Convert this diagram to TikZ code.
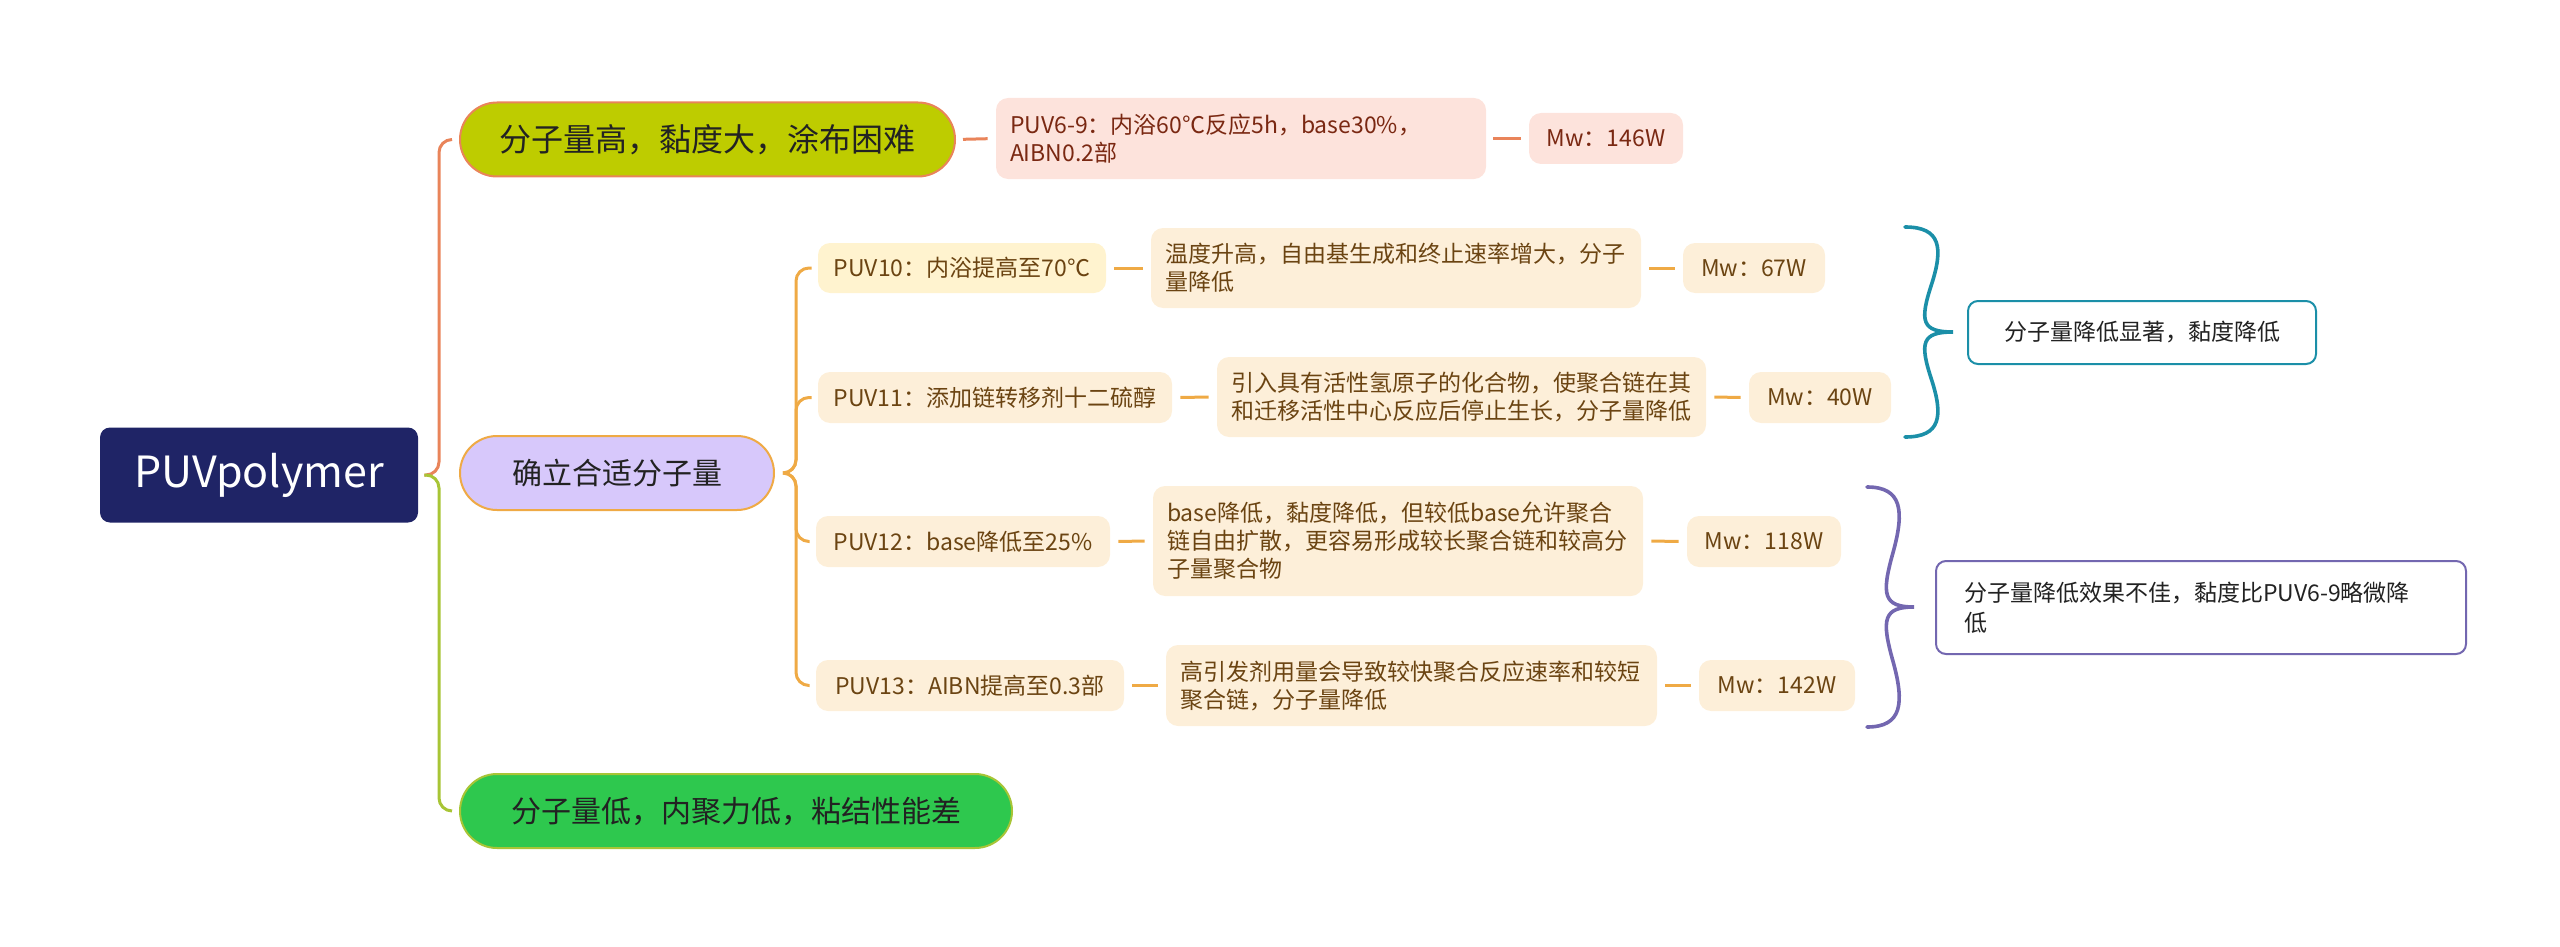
\documentclass[tikz,border=0pt]{standalone}
\usepackage{fontspec}
\setmainfont{Noto Sans CJK SC}
\usetikzlibrary{calc}
\definecolor{navy}{HTML}{1F2466}
\definecolor{cone}{HTML}{E9845A}
\definecolor{ctwo}{HTML}{EFAA45}
\definecolor{cthree}{HTML}{A8C536}
\definecolor{fone}{HTML}{BECC00}
\definecolor{ftwo}{HTML}{D7C8FB}
\definecolor{fthree}{HTML}{2EC84E}
\definecolor{pinkf}{HTML}{FDE3DC}
\definecolor{pinkt}{HTML}{7A2812}
\definecolor{yelf}{HTML}{FFF3CF}
\definecolor{peachf}{HTML}{FDEFD9}
\definecolor{brownt}{HTML}{6B4412}
\definecolor{tealc}{HTML}{1B8FA8}
\definecolor{purc}{HTML}{7367B0}
\definecolor{darkt}{HTML}{222222}
\begin{document}
\begin{tikzpicture}[x=0.5pt,y=-0.5pt,
  rootbox/.style={fill=navy, rounded corners=5pt, inner sep=0pt, text=white,
    minimum width=159pt, minimum height=47.5pt, font=\fontsize{21.5}{24}\selectfont},
  pill/.style={draw, line width=1pt, rounded corners=18.5pt, inner sep=0pt,
    minimum height=37pt, text=darkt, font=\fontsize{15}{18}\selectfont},
  sbox/.style={rounded corners=6pt, inner xsep=7pt, inner ysep=0pt,
    font=\fontsize{11.5}{14}\selectfont},
  pinkbox/.style={sbox, fill=pinkf, text=pinkt},
  yelbox/.style={sbox, fill=yelf, text=brownt},
  peachbox/.style={sbox, fill=peachf, text=brownt},
  notebox/.style={draw, line width=1pt, fill=white, rounded corners=5pt, inner xsep=14pt,
    inner ysep=0pt, text=darkt, font=\fontsize{11.5}{15}\selectfont},
  lnone/.style={draw=cone, line width=1.5pt, rounded corners=6.5pt},
  lntwo/.style={draw=ctwo, line width=1.5pt, rounded corners=6.5pt},
  lnthree/.style={draw=cthree, line width=1.5pt, rounded corners=6.5pt},
  dashone/.style={draw=cone, line width=1.5pt, shorten <=3.5pt, shorten >=4pt},
  dashtwo/.style={draw=ctwo, line width=1.5pt, shorten <=4pt, shorten >=4pt},
  bracepath/.style={line width=1.8pt, line cap=round}
]
\useasboundingbox (0,0) rectangle (2560,947);

% root and main branches
\node[rootbox] (root) at (259,475) {PUVpolymer};
\node[pill, fill=fone, draw=cone, minimum width=247.5pt, font=\fontsize{16}{19}\selectfont] (b1) at (707.5,139.5) {分子量高，黏度大，涂布困难};
\node[pill, fill=ftwo, draw=ctwo, minimum width=157pt] (b2) at (617,473) {确立合适分子量};
\node[pill, fill=fthree, draw=cthree, minimum width=276pt] (b3) at (736,811) {分子量低，内聚力低，粘结性能差};

% branch 1 row
\node[pinkbox, minimum width=245pt, minimum height=40.5pt, text width=231pt, align=left] (n69) at (1241,138.5) {PUV6-9：内浴60℃反应5h，base30\%，\\AIBN0.2部};
\node[pinkbox, minimum width=77pt, minimum height=25.5pt] (mw146) at (1606,138.5) {Mw：146W};

% branch 2 rows
\node[yelbox, minimum width=144pt, minimum height=25pt] (p10) at (962,268) {PUV10：内浴提高至70℃};
\node[peachbox, minimum width=245pt, minimum height=40pt, text width=231pt, align=left] (e10) at (1396,268) {温度升高，自由基生成和终止速率增大，分子\\量降低};
\node[peachbox, minimum width=71pt, minimum height=25pt] (mw67) at (1754,268) {Mw：67W};

\node[peachbox, minimum width=177pt, minimum height=25.5pt] (p11) at (995,397.5) {PUV11：添加链转移剂十二硫醇};
\node[peachbox, minimum width=244.5pt, minimum height=40pt, text width=230.5pt, align=left] (e11) at (1461.5,397) {引入具有活性氢原子的化合物，使聚合链在其\\和迁移活性中心反应后停止生长，分子量降低};
\node[peachbox, minimum width=71pt, minimum height=25.5pt] (mw40) at (1820,397.5) {Mw：40W};

\node[peachbox, minimum width=147pt, minimum height=25.5pt] (p12) at (963,541.5) {PUV12：base降低至25\%};
\node[peachbox, minimum width=245pt, minimum height=55pt, text width=231pt, align=left] (e12) at (1398,541) {base降低，黏度降低，但较低base允许聚合\\链自由扩散，更容易形成较长聚合链和较高分\\子量聚合物};
\node[peachbox, minimum width=77pt, minimum height=25.5pt] (mw118) at (1764,541.5) {Mw：118W};

\node[peachbox, minimum width=154pt, minimum height=25.5pt] (p13) at (970,685.5) {PUV13：AIBN提高至0.3部};
\node[peachbox, minimum width=245.5pt, minimum height=40.5pt, text width=231.5pt, align=left] (e13) at (1411.5,685.5) {高引发剂用量会导致较快聚合反应速率和较短\\聚合链，分子量降低};
\node[peachbox, minimum width=78pt, minimum height=25.5pt] (mw142) at (1777,685.5) {Mw：142W};

% summary boxes
\node[notebox, draw=tealc, minimum width=174pt, minimum height=31.5pt] (s1) at (2142,332.5) {分子量降低显著，黏度降低};
\node[notebox, draw=purc, minimum width=265pt, minimum height=46.5pt, text width=237pt, align=left] (s2) at (2201,607.5) {分子量降低效果不佳，黏度比PUV6-9略微降\\低};

% root connectors
\draw[lnone] ([xshift=3pt]root.east) -- (439,475) -- (439,139.5) -- ([xshift=-3.5pt]b1.west);
\draw[lnthree] ([xshift=3pt]root.east) -- (439,475) -- (439,811) -- ([xshift=-3.5pt]b3.west);

% branch 2 connectors
\draw[lntwo] ([xshift=4pt]b2.east) -- (796,473) -- (796,268) -- ([xshift=-3pt]p10.west);
\draw[lntwo] ([xshift=4pt]b2.east) -- (796,473) -- (796,397.5) -- ([xshift=-3pt]p11.west);
\draw[lntwo] ([xshift=4pt]b2.east) -- (796,473) -- (796,541.5) -- ([xshift=-3pt]p12.west);
\draw[lntwo] ([xshift=4pt]b2.east) -- (796,473) -- (796,685.5) -- ([xshift=-3pt]p13.west);

% row dashes
\draw[dashone] (b1.east) -- (n69.west);
\draw[dashone] (n69.east) -- (mw146.west);
\draw[dashtwo] (p10.east) -- (e10.west);
\draw[dashtwo] (e10.east) -- (mw67.west);
\draw[dashtwo] (p11.east) -- (e11.west);
\draw[dashtwo] (e11.east) -- (mw40.west);
\draw[dashtwo] (p12.east) -- (e12.west);
\draw[dashtwo] (e12.east) -- (mw118.west);
\draw[dashtwo] (p13.east) -- (e13.west);
\draw[dashtwo] (e13.east) -- (mw142.west);

% braces
\coordinate (t1) at (1905,227);
\coordinate (m1) at (1953,332);
\coordinate (u1) at (1905,437);
\draw[bracepath, draw=tealc]
  (t1) .. controls (1941,227) and (1943.4,248) .. (1931.4,284.8)
       .. controls (1919.4,321.5) and (1921.8,332) .. (m1)
       .. controls (1921.8,332) and (1919.4,342.5) .. (1931.4,379.2)
       .. controls (1943.4,416) and (1941,437) .. (u1);
\coordinate (t2) at (1867,487);
\coordinate (m2) at (1914,607);
\coordinate (u2) at (1867,727);
\draw[bracepath, draw=purc]
  (t2) .. controls (1902.3,487) and (1904.6,511) .. (1892.9,553)
       .. controls (1881.1,595) and (1883.5,607) .. (m2)
       .. controls (1883.5,607) and (1881.1,619) .. (1892.9,661)
       .. controls (1904.6,703) and (1902.3,727) .. (u2);
\end{tikzpicture}
\end{document}
